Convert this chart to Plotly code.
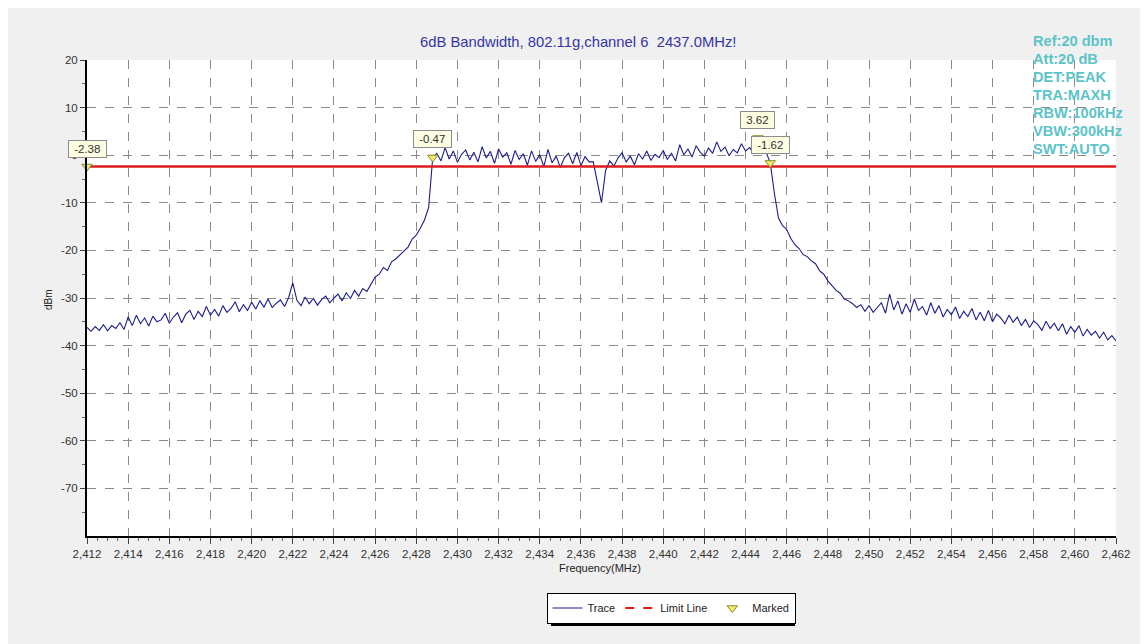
import numpy as np
import plotly.graph_objects as go

# ---- data ----
freq_start = 2412.0
freq_step = 0.2
trace_dbm = [
    # 2412.0 - 2414.0
    -36.2, -37.0, -36.0, -36.8, -35.6, -36.9, -35.8, -36.4, -35.2, -36.6, -34.0,
    # 2414.2 - 2416.0
    -35.8, -33.6, -35.4, -34.2, -35.9, -33.8, -35.0, -34.6, -33.2, -35.3,
    # 2416.2 - 2418.0
    -34.0, -33.1, -35.2, -33.4, -32.6, -34.5, -32.8, -33.9, -31.8, -33.6,
    # 2418.2 - 2420.0
    -32.4, -33.8, -31.6, -33.0, -32.2, -30.8, -32.9, -31.4, -32.6, -30.9,
    # 2420.2 - 2422.0
    -32.3, -30.6, -31.9, -30.2, -32.0, -31.1, -30.4, -31.8, -29.9, -26.8,
    # 2422.2 - 2424.0
    -30.5, -31.6, -29.8, -31.2, -30.1, -31.5, -30.3, -29.6, -31.0, -30.0,
    # 2424.2 - 2426.0
    -29.2, -30.6, -28.9, -30.1, -28.4, -29.6, -28.0, -28.6, -27.2, -25.6,
    # 2426.2 - 2428.0
    -25.0, -23.6, -24.2, -22.4, -21.8, -20.9, -20.2, -19.3, -17.6, -16.8,
    # 2428.2 - 2428.8
    -15.3, -13.6, -11.0, -0.47,
    # 2429.0 - 2430.8
    0.4, -1.2, 1.6, -0.8, 0.9, -1.5, 0.2, 1.1, -1.0, 0.6,
    # 2431.0 - 2432.8
    -1.4, 1.8, -0.6, 0.8, -1.7, 1.3, -0.4, 0.5, -1.9, 1.0,
    # 2433.0 - 2434.8
    -0.9, 0.3, -2.1, 0.9, -1.3, 0.1, -2.4, 1.2, -1.6, -0.2,
    # 2435.0 - 2436.8
    -2.6, -0.5, 0.4, -1.8, 0.6, -2.2, -0.3, -1.4, -1.4, -6.0,
    # 2437.0 - 2438.8
    -10.0, -3.2, -1.2, -2.3, -0.6, 0.5, -1.4, -0.2, -2.0, 0.3,
    # 2439.0 - 2440.8
    -0.8, 0.9, -1.1, 0.2, -0.5, 1.0, -0.9, 0.4, -1.2, 2.2,
    # 2441.0 - 2442.8
    0.1, 1.3, -0.4, 2.0, 0.6, -0.2, 1.5, 0.4, 2.8, 0.8,
    # 2443.0 - 2444.8
    1.7, -0.1, 1.2, 0.5, 2.4, 0.9, 1.6, 0.3, 3.62, 1.1,
    # 2445.0 - 2445.2
    0.6, -1.62,
    # 2445.4 - 2449.0
    -8.0, -13.2, -14.8, -15.6, -17.5, -18.8, -19.6, -20.9, -21.3, -22.2,
    -22.8, -24.3, -25.0, -26.4, -27.3, -28.4, -29.0, -30.2, -30.6,
    # 2449.2 - 2451.0
    -31.2, -32.0, -31.4, -32.8, -31.6, -33.0, -32.1, -31.0, -33.2, -29.2,
    # 2451.2 - 2453.0
    -32.5, -30.6, -33.4, -31.2, -33.0, -30.2, -32.6, -31.8, -33.6, -31.0,
    # 2453.2 - 2455.0
    -33.2, -31.6, -34.0, -32.4, -33.5, -31.9, -34.3, -32.8, -33.9, -32.2,
    # 2455.2 - 2457.0
    -34.6, -33.0, -34.8, -32.6, -35.0, -33.4, -34.2, -35.4, -33.6, -35.1,
    # 2457.2 - 2459.0
    -34.0, -35.8, -34.5, -36.2, -34.8, -35.6, -36.8, -34.9, -36.4, -35.3,
    # 2459.2 - 2461.0
    -36.9, -35.4, -37.6, -36.0, -37.2, -35.8, -38.0, -36.6, -37.8, -37.0,
    # 2461.2 - 2462.0
    -38.4, -37.2, -38.8, -37.9, -39.0,
]
freq_mhz = np.round(freq_start + freq_step * np.arange(len(trace_dbm)), 1)

limit_dbm = -2.38
limit_freq = [2412.0, 2462.0]

marker_freq = [2412.0, 2428.8, 2444.6, 2445.2]
marker_dbm = [-2.38, -0.47, 3.62, -1.62]
marker_text = ["-2.38", "-0.47", "3.62", "-1.62"]

y_ticks = [20, 10, 0, -10, -20, -30, -40, -50, -60, -70]
y_ticktext = ["20", "10", "0", "-10", "-20", "-30", "-40", "-50", "-60", "-70"]
info_lines = ["Ref:20 dbm", "Att:20 dB", "DET:PEAK", "TRA:MAXH",
              "RBW:100kHz", "VBW:300kHz", "SWT:AUTO"]
title_text = "6dB Bandwidth, 802.11g,channel 6\u00a0\u00a02437.0MHz!"

# ---- geometry helpers (reference pixel -> paper fraction of plot area) ----
PX0, PX1, PY0, PY1 = 87, 1116, 60, 536


def px(x):
    return (x - PX0) / (PX1 - PX0)


def py(y):
    return (PY1 - y) / (PY1 - PY0)


FONT = "Liberation Sans, Arial, sans-serif"
fig = go.Figure()

fig.add_trace(go.Scatter(
    x=freq_mhz, y=trace_dbm, mode="lines", name="Trace",
    line=dict(color="#1c1c8e", width=1.1), hoverinfo="x+y"))

fig.add_trace(go.Scatter(
    x=limit_freq, y=[limit_dbm, limit_dbm], mode="lines", name="Limit Line",
    line=dict(color="#dd1c1c", width=2.5), showlegend=False))
fig.add_trace(go.Scatter(
    x=[None], y=[None], mode="lines", name="Limit Line",
    line=dict(color="#dd1c1c", width=2, dash="dash")))

fig.add_trace(go.Scatter(
    x=marker_freq, y=marker_dbm, mode="markers", name="Marked",
    marker=dict(symbol="triangle-down", size=9, color="#f2ea6a",
                line=dict(color="#8a8a30", width=1)),
    cliponaxis=False))

annotations = []
for f, v, t in zip(marker_freq, marker_dbm, marker_text):
    annotations.append(dict(
        x=f, y=v, xref="x", yref="y", text="\u00a0" + t + "\u00a0",
        showarrow=False, yshift=18, xanchor="center", yanchor="middle",
        font=dict(family=FONT, size=11.5, color="#333333"),
        bgcolor="#fdfde2", bordercolor="#8c8c8c", borderwidth=1, borderpad=2))

annotations.append(dict(
    x=px(578), y=py(42), xref="paper", yref="paper", text=title_text,
    showarrow=False, xanchor="center", yanchor="middle",
    font=dict(family=FONT, size=14.8, color="#3535a8")))

for i, line in enumerate(info_lines):
    annotations.append(dict(
        x=px(1031), y=py(41 + 18 * i),
        xref="paper", yref="paper", text="<b>" + line + "</b>",
        showarrow=False, xanchor="left", yanchor="middle",
        font=dict(family=FONT, size=14.6, color="#5cc4c8")))

annotations.append(dict(
    x=px(48), y=py(300), xref="paper", yref="paper",
    text="dBm", textangle=-90, showarrow=False,
    xanchor="center", yanchor="middle",
    font=dict(family=FONT, size=10, color="#222222")))
annotations.append(dict(
    x=px(600), y=py(568), xref="paper", yref="paper",
    text="Frequency(MHz)", showarrow=False,
    xanchor="center", yanchor="middle",
    font=dict(family=FONT, size=11, color="#222222")))

shapes = [
    # legend drop shadow
    dict(type="rect", xref="paper", yref="paper", layer="below",
         x0=px(551), x1=px(795), y0=py(626), y1=py(598),
         fillcolor="black", line=dict(width=0)),
]

# page body has an 8px margin, so the figure sits at (8, 8)
fig.update_layout(
    width=1140, height=636,
    margin=dict(l=79, r=32, t=52, b=108),
    paper_bgcolor="#f0f0f0", plot_bgcolor="white",
    font=dict(family=FONT, size=11, color="#333333"),
    showlegend=True,
    legend=dict(orientation="h", x=px(671), y=py(608),
                xanchor="center", yanchor="middle", bgcolor="white",
                bordercolor="black", borderwidth=1,
                font=dict(family=FONT, size=11, color="#222222"),
                itemwidth=30, tracegroupgap=0),
    annotations=annotations, shapes=shapes,
    hovermode="closest",
)

fig.update_xaxes(
    range=[2412, 2462], dtick=2, tick0=2412, tickformat=",d",
    showline=True, linecolor="black", linewidth=2,
    ticks="outside", ticklen=6, tickcolor="#444", tickwidth=1,
    showgrid=True, gridcolor="#8a8a8a", griddash="dash", gridwidth=1,
    minor=dict(dtick=0.5, ticks="outside", ticklen=3, tickcolor="#666",
               showgrid=False),
    zeroline=False, tickfont=dict(family=FONT, size=11.5, color="#333333"))

fig.update_yaxes(
    range=[-80, 20], tickvals=y_ticks, ticktext=y_ticktext,
    showline=True, linecolor="black", linewidth=2,
    ticks="outside", ticklen=5, tickcolor="#444", tickwidth=1,
    showgrid=True, gridcolor="#8a8a8a", griddash="dash", gridwidth=1,
    minor=dict(tickvals=[v - 5 for v in y_ticks], ticks="outside", ticklen=3,
               tickcolor="#666", showgrid=False),
    zeroline=False, tickfont=dict(family=FONT, size=11.5, color="#333333"))

fig.write_html("out.html")
